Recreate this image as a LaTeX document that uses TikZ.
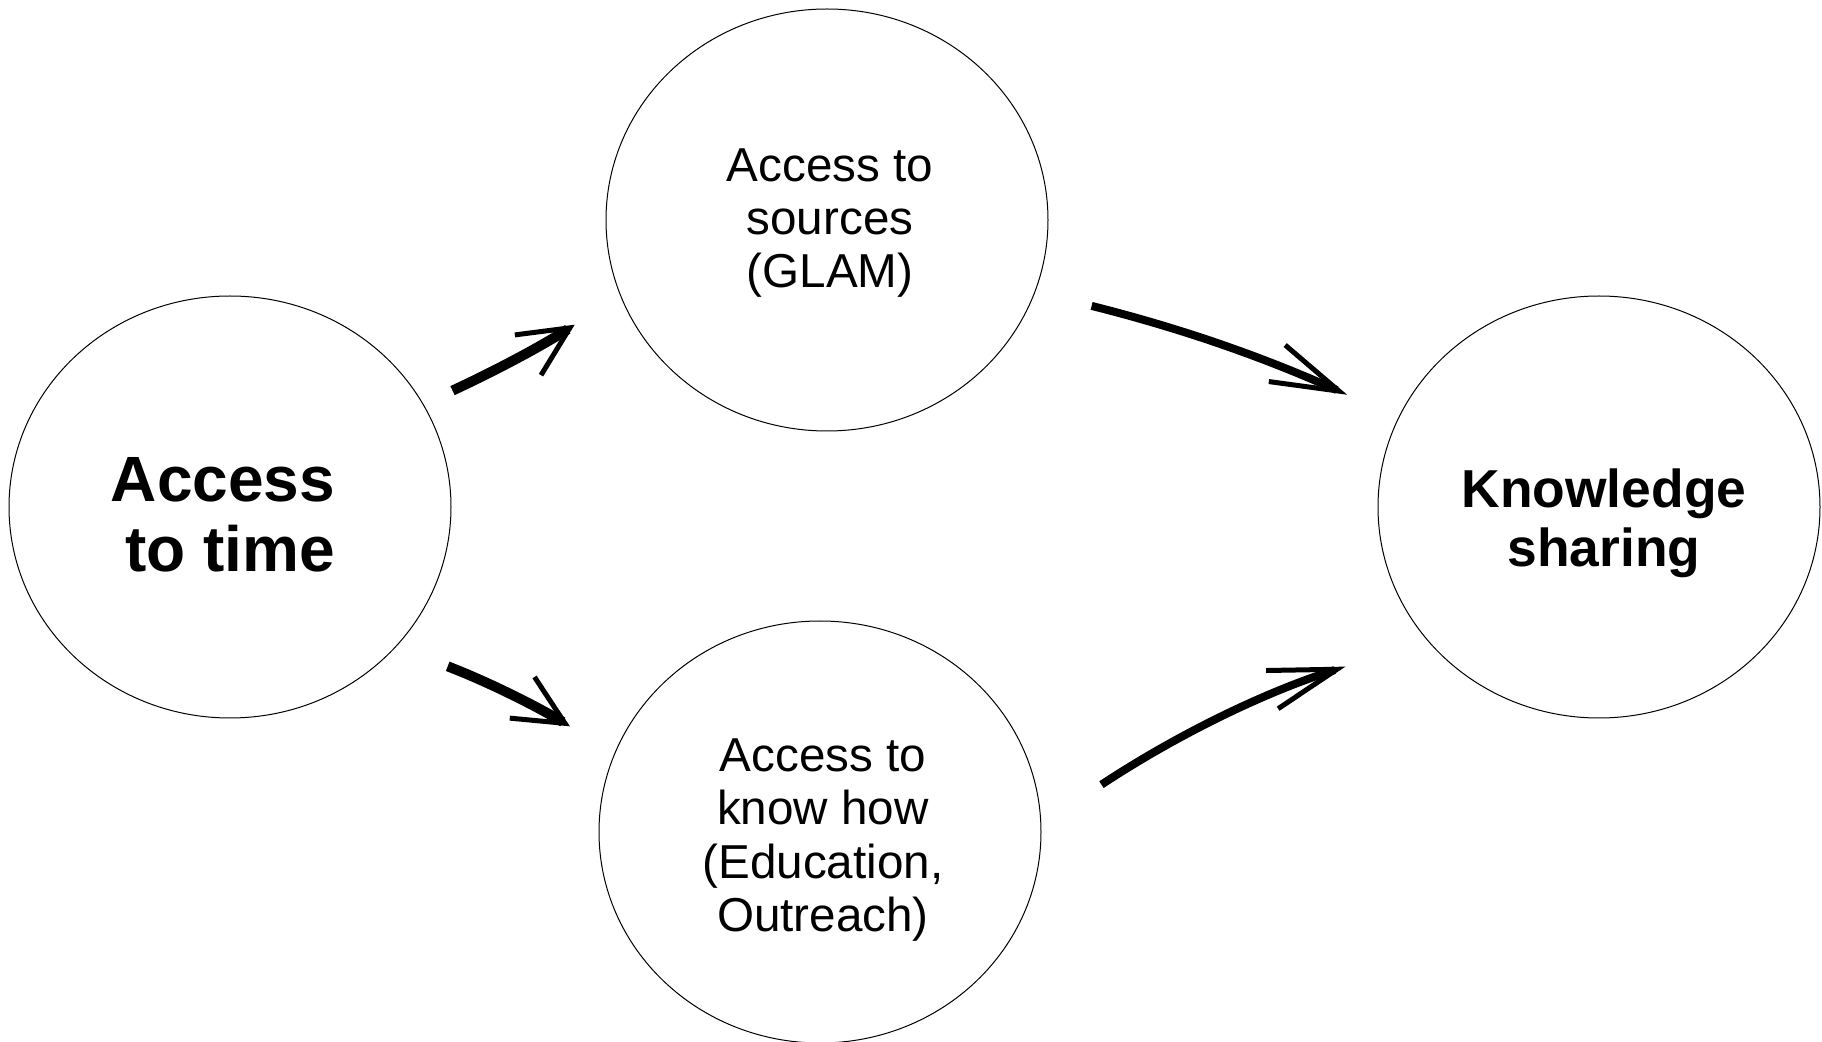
\documentclass[tikz,border=0pt]{standalone}
\usepackage{fontspec}
\setmainfont{Liberation Sans}
\usetikzlibrary{arrows.meta, shapes.geometric}
\tikzset{bubble/.style = {ellipse, draw, line width=0.5pt, inner sep=0pt, minimum width=221pt, minimum height=211pt}}
\tikzset{plaintext/.style = {align=center, font=\fontsize{23.8}{26.7}\selectfont}}
\tikzset{boldtext/.style = {align=center, font=\fontsize{26.7}{29.6}\selectfont\bfseries}}
\tikzset{flow/.style = {line width=4pt, -{Straight Barb[length=34pt, width=20pt, line width=2.5pt]}}}
\tikzset{bigflow/.style = {line width=5pt, -{Straight Barb[length=25pt, width=24pt, line width=2.5pt]}}}

\begin{document}
\begin{tikzpicture}[x=0.5pt, y=0.5pt]
\useasboundingbox (0,0) rectangle (1822,-1042);
\node [bubble] (time) at (230,-507) {};
\node [bubble] (sources) at (827,-220) {};
\node [bubble] (knowhow) at (820,-832) {};
\node [bubble] (sharing) at (1599,-507) {};
% texts of the bubbles
\node [boldtext, align=right, font=\fontsize{32}{35}\selectfont\bfseries] (timetext) at ([shift={(-7,-8)}]time.center) {Access\\ to time};
\node [plaintext] (sourcestext) at ([shift={(3,-3)}]sources.center) {Access to\\ sources\\ (GLAM)};
\node [plaintext] (knowhowtext) at ([shift={(3,-8)}]knowhow.center) {Access to\\ know how\\ (Education,\\ Outreach)};
\node [boldtext] (sharingtext) at ([shift={(5,-16)}]sharing.center) {Knowledge\\ sharing};
% arrows between the bubbles
\draw [bigflow, shorten <=16pt, shorten >=27pt] (time.28) to [bend right=4] (sources.200);
\draw [bigflow, shorten <=27.5pt, shorten >=26pt] (time.-40) to [bend left=5] (knowhow.159);
\draw [flow, shorten <=29pt, shorten >=28pt] (sources.-19) to [bend left=5] (sharing.156);
\draw [flow, shorten <=36pt, shorten >=43pt] (knowhow.2) to [bend left=8] (sharing.218);
\end{tikzpicture}
\end{document}
